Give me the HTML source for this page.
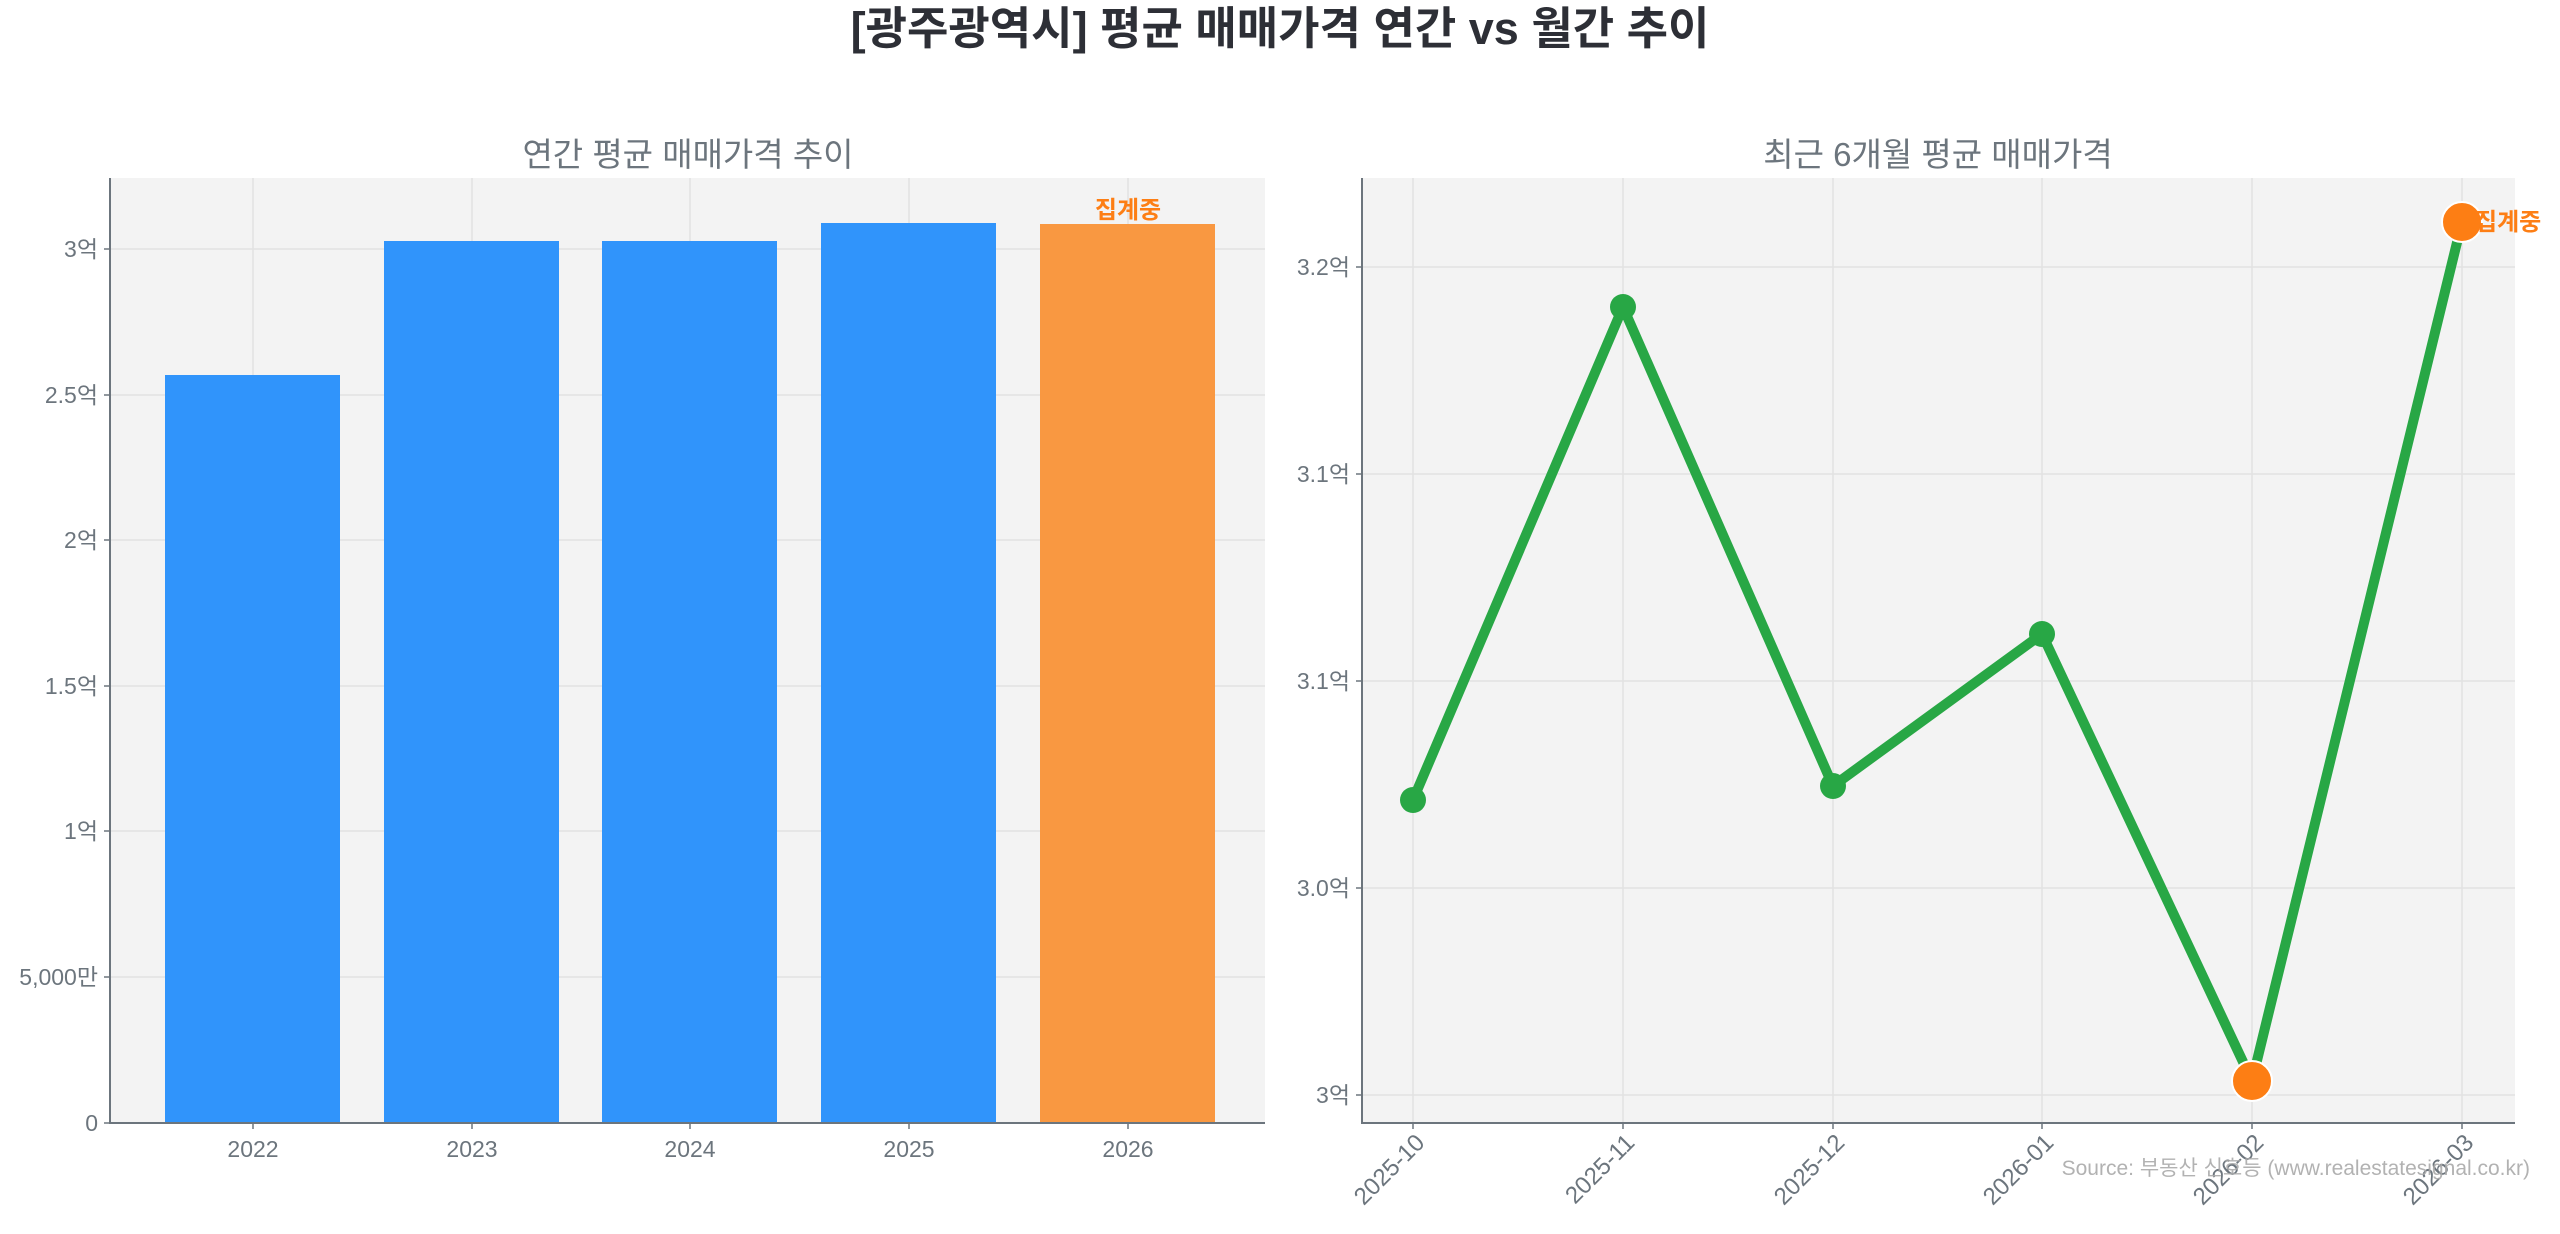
<!DOCTYPE html>
<html><head><meta charset="utf-8"><style>
html,body{margin:0;padding:0;background:#fff;}
svg{display:block;font-family:"Liberation Sans","Noto Sans CJK KR",sans-serif;}
</style></head><body>
<svg width="2560" height="1234" viewBox="0 0 2560 1234" xmlns="http://www.w3.org/2000/svg">
<rect width="2560" height="1234" fill="#fff"/>
<text x="1280" y="44" text-anchor="middle" font-size="45" font-weight="bold" fill="#2d2f36">[광주광역시] 평균 매매가격 연간 vs 월간 추이</text>

<!-- Left chart -->
<text x="688" y="166" text-anchor="middle" font-size="33" fill="#6c757d">연간 평균 매매가격 추이</text>
<rect x="110" y="178" width="1155" height="945" fill="#f3f3f3"/>
<g stroke="#e2e2e2" stroke-width="1.5">
<line x1="110" x2="1265" y1="249" y2="249"/><line x1="110" x2="1265" y1="395" y2="395"/>
<line x1="110" x2="1265" y1="540" y2="540"/><line x1="110" x2="1265" y1="686" y2="686"/>
<line x1="110" x2="1265" y1="831" y2="831"/><line x1="110" x2="1265" y1="977" y2="977"/>
<line x1="253" x2="253" y1="178" y2="1123"/><line x1="472" x2="472" y1="178" y2="1123"/>
<line x1="690" x2="690" y1="178" y2="1123"/><line x1="909" x2="909" y1="178" y2="1123"/>
<line x1="1128" x2="1128" y1="178" y2="1123"/>
</g>
<rect x="165" y="375" width="175" height="748" fill="#3094fb"/>
<rect x="384" y="241" width="175" height="882" fill="#3094fb"/>
<rect x="602" y="241" width="175" height="882" fill="#3094fb"/>
<rect x="821" y="223" width="175" height="900" fill="#3094fb"/>
<rect x="1040" y="224" width="175" height="899" fill="#f99841"/>
<text x="1128" y="218" text-anchor="middle" font-size="24" font-weight="bold" fill="#fd7e14">집계중</text>
<g stroke="#6c757d" stroke-width="2"><line x1="110" y1="178" x2="110" y2="1124"/><line x1="109" y1="1123" x2="1265" y2="1123"/></g>
<g stroke="#6c757d" stroke-width="1.5">
<line x1="104" x2="110" y1="249" y2="249"/><line x1="104" x2="110" y1="395" y2="395"/><line x1="104" x2="110" y1="540" y2="540"/>
<line x1="104" x2="110" y1="686" y2="686"/><line x1="104" x2="110" y1="831" y2="831"/><line x1="104" x2="110" y1="977" y2="977"/><line x1="104" x2="110" y1="1123" y2="1123"/>
<line x1="253" x2="253" y1="1123" y2="1129"/><line x1="472" x2="472" y1="1123" y2="1129"/><line x1="690" x2="690" y1="1123" y2="1129"/><line x1="909" x2="909" y1="1123" y2="1129"/><line x1="1128" x2="1128" y1="1123" y2="1129"/>
</g>
<g font-size="23" fill="#6c757d" text-anchor="end">
<text x="98" y="257">3억</text><text x="98" y="403">2.5억</text><text x="98" y="548">2억</text>
<text x="98" y="694">1.5억</text><text x="98" y="839">1억</text><text x="98" y="985">5,000만</text><text x="98" y="1131">0</text>
</g>
<g font-size="23" fill="#6c757d" text-anchor="middle">
<text x="253" y="1157">2022</text><text x="472" y="1157">2023</text><text x="690" y="1157">2024</text><text x="909" y="1157">2025</text><text x="1128" y="1157">2026</text>
</g>

<!-- Right chart -->
<text x="1938" y="166" text-anchor="middle" font-size="33" fill="#6c757d">최근 6개월 평균 매매가격</text>
<rect x="1362" y="178" width="1153" height="945" fill="#f3f3f3"/>
<g stroke="#e2e2e2" stroke-width="1.5">
<line x1="1362" x2="2515" y1="267" y2="267"/><line x1="1362" x2="2515" y1="474" y2="474"/>
<line x1="1362" x2="2515" y1="681" y2="681"/><line x1="1362" x2="2515" y1="888" y2="888"/><line x1="1362" x2="2515" y1="1095" y2="1095"/>
<line x1="1413" x2="1413" y1="178" y2="1123"/><line x1="1623" x2="1623" y1="178" y2="1123"/><line x1="1833" x2="1833" y1="178" y2="1123"/>
<line x1="2042" x2="2042" y1="178" y2="1123"/><line x1="2252" x2="2252" y1="178" y2="1123"/><line x1="2462" x2="2462" y1="178" y2="1123"/>
</g>
<polyline points="1413,800 1623,307 1833,786 2042,634 2252,1081 2462,222" fill="none" stroke="#28a745" stroke-width="10" stroke-linejoin="miter"/>
<g fill="#28a745"><circle cx="1413" cy="800" r="13"/><circle cx="1623" cy="307" r="13"/><circle cx="1833" cy="786" r="13"/><circle cx="2042" cy="634" r="13"/></g>
<g fill="#fd7e14" stroke="#fff" stroke-width="2"><circle cx="2252" cy="1081" r="20"/><circle cx="2462" cy="222" r="20"/></g>
<text x="2475" y="230" font-size="24" font-weight="bold" fill="#fd7e14">집계중</text>
<g stroke="#6c757d" stroke-width="2"><line x1="1362" y1="178" x2="1362" y2="1124"/><line x1="1361" y1="1123" x2="2515" y2="1123"/></g>
<g stroke="#6c757d" stroke-width="1.5">
<line x1="1356" x2="1362" y1="267" y2="267"/><line x1="1356" x2="1362" y1="474" y2="474"/><line x1="1356" x2="1362" y1="681" y2="681"/><line x1="1356" x2="1362" y1="888" y2="888"/><line x1="1356" x2="1362" y1="1095" y2="1095"/>
<line x1="1413" x2="1413" y1="1123" y2="1129"/><line x1="1623" x2="1623" y1="1123" y2="1129"/><line x1="1833" x2="1833" y1="1123" y2="1129"/><line x1="2042" x2="2042" y1="1123" y2="1129"/><line x1="2252" x2="2252" y1="1123" y2="1129"/><line x1="2462" x2="2462" y1="1123" y2="1129"/>
</g>
<g font-size="23" fill="#6c757d" text-anchor="end">
<text x="1350" y="275">3.2억</text><text x="1350" y="482">3.1억</text><text x="1350" y="689">3.1억</text><text x="1350" y="896">3.0억</text><text x="1350" y="1103">3억</text>
</g>
<g font-size="24" fill="#6c757d" text-anchor="end">
<text transform="translate(1426,1144) rotate(-45)">2025-10</text>
<text transform="translate(1636,1144) rotate(-45)">2025-11</text>
<text transform="translate(1846,1144) rotate(-45)">2025-12</text>
<text transform="translate(2055,1144) rotate(-45)">2026-01</text>
<text transform="translate(2265,1144) rotate(-45)">2026-02</text>
<text transform="translate(2475,1144) rotate(-45)">2026-03</text>
</g>
<text x="2530" y="1175" text-anchor="end" font-size="21" fill="#aaaaaa" opacity="0.9">Source: 부동산 신호등 (www.realestatesignal.co.kr)</text>
</svg>
</body></html>
